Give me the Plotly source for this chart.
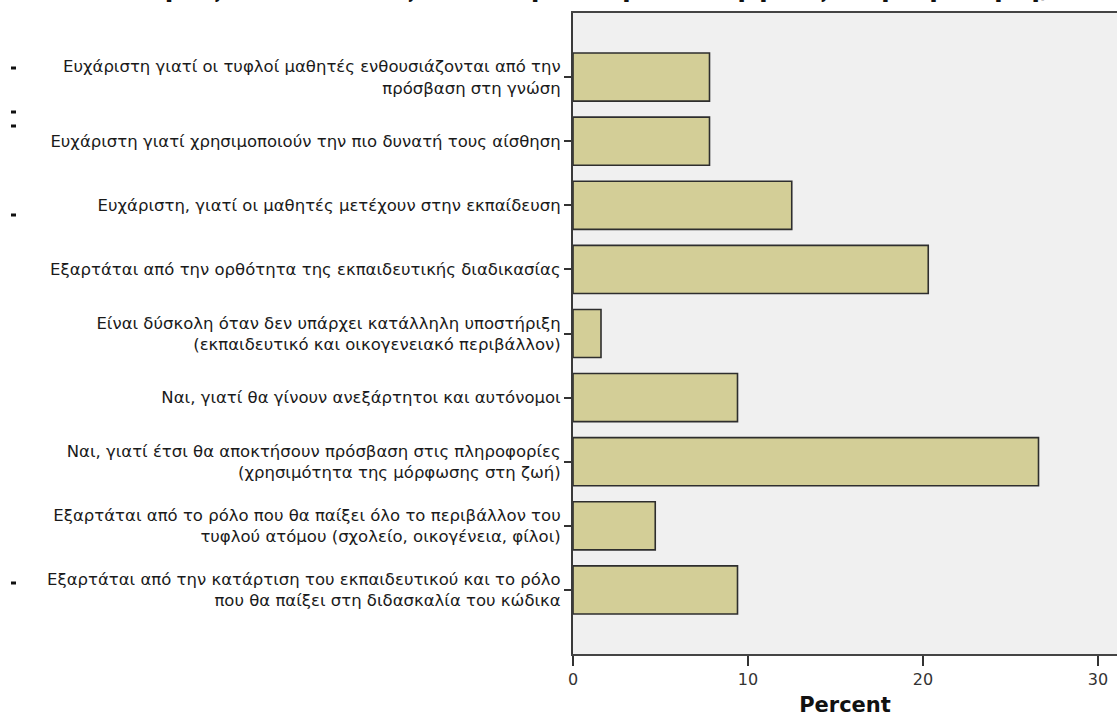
import plotly.graph_objects as go

# ---- data ----
categories = [
    "Ευχάριστη γιατί οι τυφλοί μαθητές ενθουσιάζονται από την<br>πρόσβαση στη γνώση",
    "Ευχάριστη γιατί χρησιμοποιούν την πιο δυνατή τους αίσθηση",
    "Ευχάριστη, γιατί οι μαθητές μετέχουν στην εκπαίδευση",
    "Εξαρτάται από την ορθότητα της εκπαιδευτικής διαδικασίας",
    "Είναι δύσκολη όταν δεν υπάρχει κατάλληλη υποστήριξη<br>(εκπαιδευτικό και οικογενειακό περιβάλλον)",
    "Ναι, γιατί θα γίνουν ανεξάρτητοι και αυτόνομοι",
    "Ναι, γιατί έτσι θα αποκτήσουν πρόσβαση στις πληροφορίες<br>(χρησιμότητα της μόρφωσης στη ζωή)",
    "Εξαρτάται από το ρόλο που θα παίξει όλο το περιβάλλον του<br>τυφλού ατόμου (σχολείο, οικογένεια, φίλοι)",
    "Εξαρτάται από την κατάρτιση του εκπαιδευτικού και το ρόλο<br>που θα παίξει στη διδασκαλία του κώδικα",
]
percent = [7.8, 7.8, 12.5, 20.3, 1.6, 9.4, 26.6, 4.7, 9.4]
x_ticks = [0, 10, 20, 30]
title_text = "Μπορείς να αναλύσεις αιτιολογικά την επιλογή σας στην ερώτηση;"
x_title = "Percent"

# ---- layout geometry ----
W, H = 1117, 722
L, R, T, B = 573, 0, 13, 68
plot_w = W - L - R
plot_h = H - T - B


def px_to_paper(px, py):
    return (px - L) / plot_w, (H - B - py) / plot_h


fig = go.Figure(
    go.Bar(
        x=percent,
        y=categories,
        orientation="h",
        width=0.75,
        marker=dict(color="#D3CE97", line=dict(color="#2e2e2e", width=1.6)),
        hoverinfo="x+y",
    )
)

x_max = 30 * plot_w / (1098 - L)

fig.update_layout(
    width=W,
    height=H,
    margin=dict(l=L, r=R, t=T, b=B, pad=0),
    paper_bgcolor="white",
    plot_bgcolor="#F0F0F0",
    showlegend=False,
    font=dict(family="DejaVu Sans", color="#1a1a1a"),
    xaxis=dict(
        range=[0, x_max],
        tickvals=x_ticks,
        ticktext=[str(v) for v in x_ticks],
        ticks="outside",
        ticklen=10,
        tickwidth=1.5,
        tickcolor="#333333",
        tickfont=dict(family="DejaVu Sans", size=16, color="#333333"),
        showgrid=False,
        zeroline=False,
        showline=True,
        linecolor="#444444",
        linewidth=1.5,
        mirror=True,
        title=dict(
            text=x_title,
            font=dict(family="DejaVu Sans", size=21, color="#111111", weight="bold"),
            standoff=9,
        ),
        fixedrange=True,
    ),
    yaxis=dict(
        type="category",
        categoryorder="array",
        categoryarray=categories,
        range=[len(categories), -1],
        ticks="outside",
        ticklen=7,
        tickwidth=1.5,
        tickcolor="#333333",
        ticklabelstandoff=0,
        tickfont=dict(family="DejaVu Sans", size=16.5, color="#1a1a1a"),
        showgrid=False,
        zeroline=False,
        showline=True,
        linecolor="#3a3a3a",
        linewidth=2,
        mirror=False,
        fixedrange=True,
    ),
)

# title, partially cut off above the top edge as in the reference
tx, ty = px_to_paper(576, 5.5)
fig.add_annotation(
    text=title_text,
    xref="paper",
    yref="paper",
    x=tx,
    y=ty,
    xanchor="center",
    yanchor="bottom",
    showarrow=False,
    font=dict(family="DejaVu Sans", size=25, color="#111111", weight="bold"),
)

# small leftover marks along the left edge
for (cx, cy) in [(14, 68), (14, 112), (14, 126), (14, 215), (14, 583)]:
    x0, y0 = px_to_paper(cx - 3, cy + 1.5)
    x1, y1 = px_to_paper(cx + 2, cy - 1.5)
    fig.add_shape(
        type="rect",
        xref="paper",
        yref="paper",
        x0=x0,
        x1=x1,
        y0=y0,
        y1=y1,
        line=dict(width=0),
        fillcolor="#111111",
    )

fig.write_html(
    "out.html",
    config={"displayModeBar": False},
    post_script="document.body.style.margin='0';document.body.style.overflow='hidden';",
)
